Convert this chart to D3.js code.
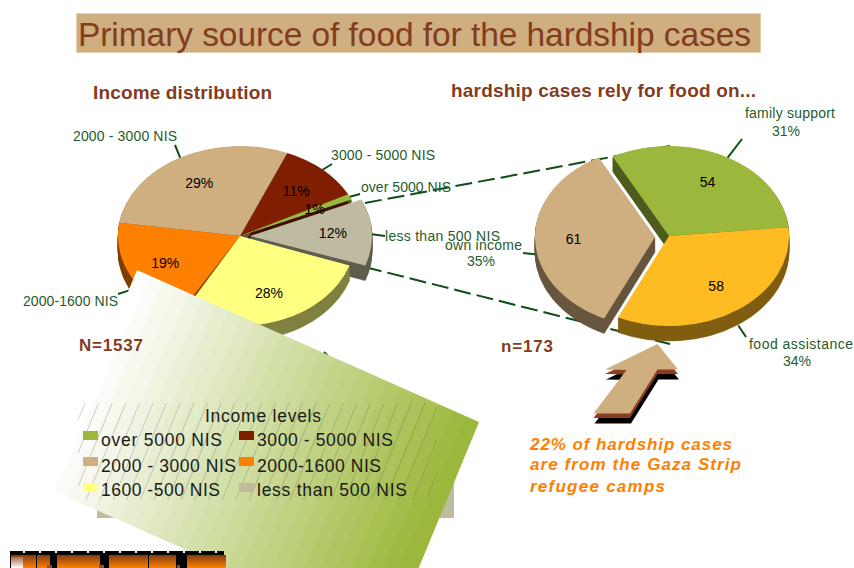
<!DOCTYPE html>
<html>
<head>
<meta charset="utf-8">
<style>html,body{margin:0;padding:0;background:#fff;overflow:hidden}svg{display:block;font-family:"Liberation Sans",Arial,sans-serif}</style>
<script src="https://cdnjs.cloudflare.com/ajax/libs/d3/7.8.5/d3.min.js"></script>
</head>
<body>
<script>
// ---- data ----
const incomeLabels = ["over 5000 NIS","3000 - 5000 NIS","2000 - 3000 NIS","2000-1600 NIS","1600 -500 NIS","less than 500 NIS"];
const incomeValues = [1,11,29,19,28,12];
const incomeColors = ["#9cb83c","#7f1f00","#cfae7f","#ff8000","#ffff80","#bfbba0"];
const foodLabels = ["family support","food assistance","own income"];
const foodValues = [54,58,61];
const foodPercents = ["31%","34%","35%"];
const foodColors = ["#9cb83c","#ffbb22","#cfae7f"];

const W = 854, H = 568;
const brown = "#843c1f", leaderGreen = "#0f4f17", labelGreen = "#1f5c2c";
const deg = Math.PI/180;
const svg = d3.select("body").append("svg").attr("width",W).attr("height",H);
const defs = svg.append("defs");

function txt(g,s,x,y,size,fill,opt={}){
  const t = g.append("text").attr("x",x).attr("y",y).attr("font-size",size).attr("fill",fill).text(s);
  if(opt.width){t.attr("textLength",opt.width).attr("lengthAdjust","spacing");}
  if(opt.bold)t.attr("font-weight","bold");
  if(opt.italic)t.attr("font-style","italic");
  if(opt.anchor)t.attr("text-anchor",opt.anchor);
  return t;
}

// ---- title ----
svg.append("rect").attr("x",76.5).attr("y",13.5).attr("width",684).attr("height",39)
   .attr("fill","#cfae7f").attr("stroke","#e2cfae");
txt(svg,"Primary source of food for the hardship cases",78,46,33.5,brown,{width:673});
txt(svg,"Income distribution",93,99,19,brown,{bold:true,width:179});
txt(svg,"hardship cases rely for food on...",451,97,19,brown,{bold:true,width:305});

// ---- connectors (behind the right pie) ----
const connectors = [[[365,203],[670,146]],[[365,267],[670,344]]];
svg.append("g").selectAll("line").data(connectors).join("line")
  .attr("x1",d=>d[0][0]).attr("y1",d=>d[0][1]).attr("x2",d=>d[1][0]).attr("y2",d=>d[1][1])
  .attr("stroke",leaderGreen).attr("stroke-width",2).attr("stroke-dasharray","17 6");

// ---- 3D pie helper: each entry of cfg.steps paints walls or tops of some slices ----
function pie3d(cfg){
  const arcs = d3.pie().sort(null).startAngle(cfg.start).endAngle(cfg.end)(cfg.values);
  const root = svg.append("g");
  const items = arcs.map((a,i)=>{
    const rx = (cfg.radii&&cfg.radii[i])||cfg.rx;
    return {a,i,rx,
      lo:Math.min(a.startAngle,a.endAngle),hi:Math.max(a.startAngle,a.endAngle),
      off:cfg.offsets[i]||[0,0],color:cfg.colors[i],
      d:d3.arc().innerRadius(0).outerRadius(rx)({startAngle:Math.min(a.startAngle,a.endAngle),endAngle:Math.max(a.startAngle,a.endAngle)})};
  });
  const depths = d3.range(cfg.depth,0,-1);
  const tf = (it,z)=>`translate(${cfg.cx+it.off[0]},${cfg.cy+it.off[1]+z}) scale(1,${cfg.ry/it.rx})`;
  cfg.steps.forEach(st=>{
    st.slices.forEach(i=>{
      const it = items[i];
      if(st.kind==="wall"){
        const c = d3.rgb(it.color);
        const wall = d3.rgb(c.r*.5,c.g*.5,c.b*.5).formatHex();
        root.append("g").selectAll("path").data(depths).join("path").attr("d",it.d)
          .attr("fill",wall).attr("stroke",wall).attr("stroke-width",.6)
          .attr("transform",z=>tf(it,z));
      } else {
        root.append("path").attr("d",it.d).attr("fill",it.color).attr("transform",tf(it,0));
      }
    });
  });
  const polar = (it,r)=>{const m=(it.lo+it.hi)/2;
    return [cfg.cx+it.off[0]+cfg.rx*r*Math.sin(m),cfg.cy+it.off[1]-cfg.ry*r*Math.cos(m)];};
  return {items,polar,root,depth:cfg.depth};
}

function leader(g,p,q){
  g.append("line").attr("x1",p[0]).attr("y1",p[1]).attr("x2",q[0]).attr("y2",q[1])
   .attr("stroke",leaderGreen).attr("stroke-width",2);
}

// ---- left pie ----
const left = pie3d({cx:240,cy:236,rx:122,ry:90,depth:15,start:66*deg,end:(66-360)*deg,
  values:incomeValues,colors:incomeColors,offsets:{5:[10,0]},radii:{4:116},
  steps:[{kind:"wall",slices:[0,1,2,3]},{kind:"top",slices:[1,2,3,0]},
         {kind:"wall",slices:[5]},{kind:"top",slices:[5]},
         {kind:"wall",slices:[4]},{kind:"top",slices:[4]}]});
const lg = svg.append("g");
const leftEnds = [[360,194],[332,164],[175,145],[118,294],[328,356],[385,236]];
const leftDrop = [0,0,0,15,0,2];
left.items.forEach((it,i)=>{
  if(i===4){leader(lg,[324,352],leftEnds[i]);return;}
  const p = left.polar(it,1);
  leader(lg,[p[0],p[1]+leftDrop[i]],leftEnds[i]);
});
const leftLabelPos = [[361,192,90],[331,160,104],[73,141,104],[23,306,95],[0,0,0],[385,241,115]];
incomeLabels.forEach((s,i)=>{
  if(leftLabelPos[i][2]) txt(lg,s,leftLabelPos[i][0],leftLabelPos[i][1],14,labelGreen,{width:leftLabelPos[i][2]});
});
left.items.forEach((it,i)=>{
  const p = left.polar(it,.68);
  txt(lg,incomeValues[i]+"%",p[0],p[1]+5,14,"#000",{anchor:"middle"});
});

// ---- right pie ----
const right = pie3d({cx:669,cy:236,rx:120,ry:90,depth:15,start:-28*deg,end:332*deg,
  values:foodValues,colors:foodColors,offsets:{2:[-14,1]},
  steps:[{kind:"wall",slices:[0,1,2]},{kind:"top",slices:[0,1,2]}]});
const rg = svg.append("g");
const rightEnds = [[742,139],[746,337],[523,253]];
right.items.forEach((it,i)=>{
  const p = right.polar(it,1);
  leader(rg,[p[0]+(i===0?2:0),p[1]+(i===0?1:i===1?16:15)],rightEnds[i]);
  const v = right.polar(it,.68);
  txt(rg,foodValues[i],v[0],v[1]+5,14,"#000",{anchor:"middle"});
});
const rightLabelPos = [[745,118,90],[749,349,104],[445,250,77]];
const rightPctPos = [[786,136],[797,366],[481,266]];
foodLabels.forEach((s,i)=>{
  txt(rg,s,rightLabelPos[i][0],rightLabelPos[i][1],14,labelGreen,{width:rightLabelPos[i][2]});
  txt(rg,foodPercents[i],rightPctPos[i][0],rightPctPos[i][1],14,labelGreen,{anchor:"middle"});
});

// ---- arrow ----
const arrowPts = [[657.5,344],[678,369.5],[657.5,369.5],[630,413.5],[593.5,413.5],[626.5,370],[605,369.5]];
const toPts = (o)=>arrowPts.map(p=>[p[0]+o[0],p[1]+o[1]].join(",")).join(" ");
const arrowLayers = [{o:[1,10],f:"#000"},{o:[0,4.5],f:"#8b3e1f"},{o:[0,0],f:"#cfae7f"}];
svg.append("g").selectAll("polygon").data(arrowLayers).join("polygon")
  .attr("points",d=>toPts(d.o)).attr("fill",d=>d.f);

txt(svg,"n=173",501,352,17,brown,{bold:true,width:52});
const note = ["22% of hardship cases","are from the Gaza Strip","refugee camps"];
const noteY = [450,470,492];
const noteW = [202,211,135];
note.forEach((s,i)=>txt(svg,s,530,noteY[i],17,"#ff8000",{bold:true,italic:true,width:noteW[i]}));

// ---- legend box behind the rotated gradient sheet ----
svg.append("rect").attr("x",97).attr("y",445).attr("width",357).attr("height",73).attr("fill","#bfbba0");
const sheet = [[137,270],[479,422],[389,640],[47,488]];
const grad = defs.append("linearGradient").attr("id","sheet").attr("gradientUnits","userSpaceOnUse")
  .attr("x1",137).attr("y1",270).attr("x2",479).attr("y2",422);
const bands = 26, mix = d3.interpolateRgb("#ffffff","#9cb83c");
d3.range(bands).forEach(b=>{
  grad.append("stop").attr("offset",b/bands).attr("stop-color",mix(b/(bands-1)));
  grad.append("stop").attr("offset",(b+1)/bands).attr("stop-color",mix(b/(bands-1)));
});
svg.append("polygon").attr("points",sheet.map(p=>p.join(",")).join(" ")).attr("fill","url(#sheet)");

// hatch
defs.append("clipPath").attr("id","hatchClip").append("rect").attr("x",78).attr("y",403).attr("width",359).attr("height",97);
svg.append("g").attr("clip-path","url(#hatchClip)").selectAll("line").data(d3.range(85,500,13.6)).join("line")
  .attr("x1",d=>d).attr("y1",403).attr("x2",d=>d-41).attr("y2",503)
  .attr("stroke","#555").attr("stroke-width",.5).attr("stroke-opacity",.55);

// legend
const lgd = svg.append("g");
txt(lgd,"Income levels",205,422,17.5,"#1a1a1a",{width:116});
const swatchX = [83,239,83,239,83,239], swatchY=[431,431,457,457,483,483];
const textX = [101,257,101,257,101,257], textY=[446,446,472,472,496,496];
const textW = [121,136,135,124,119,150];
incomeLabels.forEach((s,i)=>{
  lgd.append("rect").attr("x",swatchX[i]).attr("y",swatchY[i]).attr("width",15).attr("height",9).attr("fill",incomeColors[i]);
  txt(lgd,s,textX[i],textY[i],17.5,"#1a1a1a",{width:textW[i]});
});
txt(svg,"N=1537",79,351,17,brown,{bold:true,width:64});

// ---- bottom strip ----
const strip = svg.append("g");
const stripGrad = defs.append("linearGradient").attr("id","strip").attr("x1",0).attr("y1",0).attr("x2",0).attr("y2",1);
stripGrad.append("stop").attr("offset",0).attr("stop-color","#803c14");
stripGrad.append("stop").attr("offset",1).attr("stop-color","#ff8000");
strip.append("rect").attr("x",10).attr("y",551).attr("width",214).attr("height",17).attr("fill","#000");
strip.selectAll("rect.n").data(d3.range(23,224,16)).join("rect").attr("class","n")
  .attr("x",d=>d).attr("y",551).attr("width",2).attr("height",2).attr("fill","#fff");
const blocks = [[11,36],[37,50],[57,100],[109,148],[149,176],[187,226]];
strip.selectAll("rect.b").data(blocks).join("rect").attr("class","b")
  .attr("x",d=>d[0]).attr("y",555).attr("width",d=>d[1]-d[0]).attr("height",13).attr("fill","url(#strip)");
const paleGrad = defs.append("linearGradient").attr("id","pale").attr("x1",0).attr("y1",0).attr("x2",0).attr("y2",1);
paleGrad.append("stop").attr("offset",0).attr("stop-color","#a86a4a");
paleGrad.append("stop").attr("offset",1).attr("stop-color","#fff");
strip.append("rect").attr("x",11).attr("y",557).attr("width",12).attr("height",11).attr("fill","url(#pale)");
const bits = [[47,52],[99,104],[177,180]];
strip.selectAll("rect.m").data(bits).join("rect").attr("class","m")
  .attr("x",d=>d[0]).attr("y",565).attr("width",d=>d[1]-d[0]).attr("height",3).attr("fill","#a04a18");
</script>
</body>
</html>
